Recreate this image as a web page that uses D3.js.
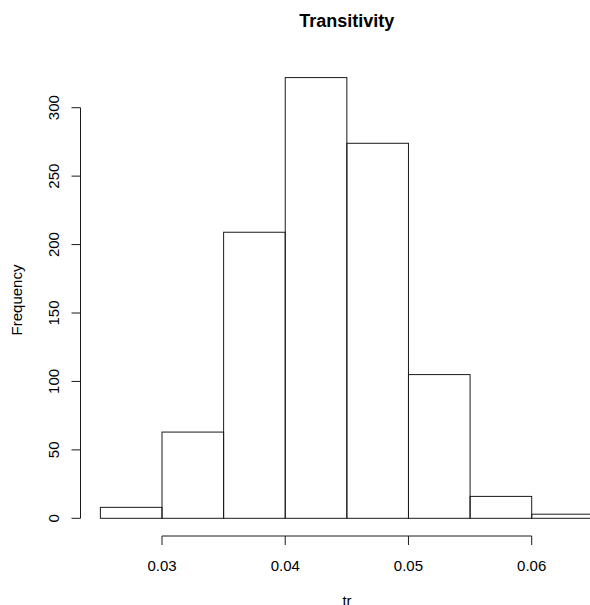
<!DOCTYPE html>
<html>
<head>
<meta charset="utf-8">
<script src="https://cdn.jsdelivr.net/npm/d3@7"></script>
<style>
  html, body { margin: 0; padding: 0; background: #fff; }
  svg { display: block; font-family: "Liberation Sans", Arial, sans-serif; }
</style>
</head>
<body>
<svg id="chart" width="590" height="605"></svg>
<script>
// Histogram of transitivity values
const binStarts = [0.025, 0.030, 0.035, 0.040, 0.045, 0.050, 0.055, 0.060];
const binWidth = 0.005;
const counts = [8, 63, 209, 322, 274, 105, 16, 3];
const xTicks = [0.03, 0.04, 0.05, 0.06];
const yTicks = [0, 50, 100, 150, 200, 250, 300];

const svg = d3.select("#chart");
const stroke = "#1a1a1a";

const x = d3.scaleLinear().domain([0.03, 0.06]).range([162, 531.7]);
const y = d3.scaleLinear().domain([0, 300]).range([518.3, 107.7]);

// bars
svg.append("g")
  .selectAll("rect")
  .data(binStarts.map((s, i) => ({ s, c: counts[i] })))
  .join("rect")
  .attr("x", d => x(d.s))
  .attr("width", d => x(d.s + binWidth) - x(d.s))
  .attr("y", d => y(d.c))
  .attr("height", d => y(0) - y(d.c))
  .attr("fill", "none")
  .attr("stroke", stroke)
  .attr("stroke-width", 1);

// x axis
const xAxis = svg.append("g").attr("transform", "translate(0,536)");
xAxis.append("line")
  .attr("x1", x(xTicks[0])).attr("x2", x(xTicks[xTicks.length - 1]))
  .attr("stroke", stroke);
xAxis.selectAll("line.tick").data(xTicks).join("line")
  .attr("class", "tick")
  .attr("x1", d => x(d)).attr("x2", d => x(d))
  .attr("y1", 0).attr("y2", 9)
  .attr("stroke", stroke);
xAxis.selectAll("text").data(xTicks).join("text")
  .attr("x", d => x(d)).attr("y", 34.5)
  .attr("text-anchor", "middle")
  .attr("font-size", 15)
  .text(d => d3.format(".2f")(d));

// y axis
const yAxis = svg.append("g").attr("transform", "translate(80.5,0)");
yAxis.append("line")
  .attr("y1", y(yTicks[0])).attr("y2", y(yTicks[yTicks.length - 1]))
  .attr("stroke", stroke);
yAxis.selectAll("line.tick").data(yTicks).join("line")
  .attr("class", "tick")
  .attr("x1", 0).attr("x2", -9)
  .attr("y1", d => y(d)).attr("y2", d => y(d))
  .attr("stroke", stroke);
yAxis.selectAll("text").data(yTicks).join("text")
  .attr("transform", d => `translate(-21.2,${y(d)}) rotate(-90)`)
  .attr("text-anchor", "middle")
  .attr("font-size", 15)
  .text(d => d);

// titles
svg.append("text")
  .attr("x", 346.7).attr("y", 26.5)
  .attr("text-anchor", "middle")
  .attr("font-size", 18)
  .attr("font-weight", "bold")
  .text("Transitivity");

svg.append("text")
  .attr("x", 347).attr("y", 606)
  .attr("text-anchor", "middle")
  .attr("font-size", 15)
  .text("tr");

svg.append("text")
  .attr("transform", "translate(22.4,300) rotate(-90)")
  .attr("text-anchor", "middle")
  .attr("font-size", 15)
  .text("Frequency");
</script>
</body>
</html>
